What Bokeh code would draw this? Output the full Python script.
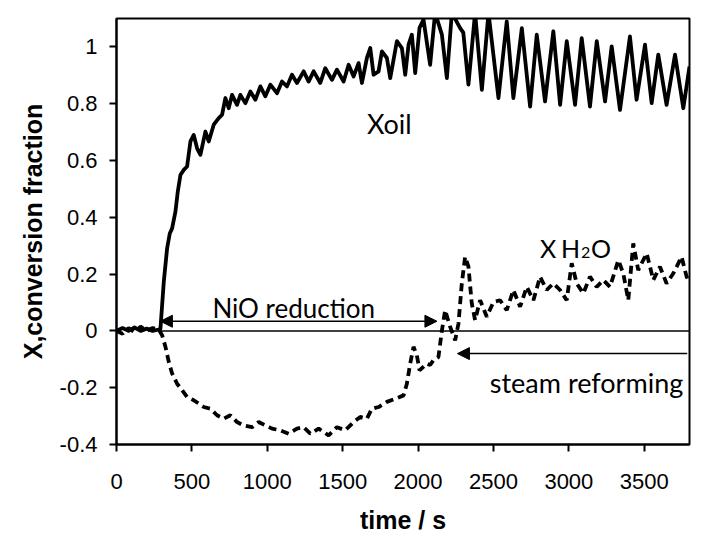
from bokeh.plotting import figure
from bokeh.models import Range1d, FixedTicker, CustomJSTickFormatter, Arrow, NormalHead, Label
from bokeh.embed import file_html
from bokeh.resources import INLINE

# ---------------- data ----------------
time_oil = [0, 40, 80, 120, 160, 200, 240, 280, 291.5, 313.6, 335.7, 353.3, 368.8, 390.9, 406.3, 424.0,
            446.1, 468.2, 490.3, 512.3, 534.4, 556.5, 589.6, 611.7, 644.8, 678.0, 700.1, 722.1,
            744.2, 766.3, 799.4, 821.5, 854.6, 887.8, 920.9, 954.0, 987.2, 1020.3, 1064.4, 1097.6,
            1130.7, 1163.8, 1197.0, 1241.1, 1274.2, 1307.4, 1351.5, 1384.7, 1428.8, 1462.0, 1506.1,
            1539.3, 1572.4, 1605.5, 1627.6, 1660.7, 1682.8, 1704.9, 1738.0, 1760.1, 1793.2, 1815.3,
            1859.5, 1892.6, 1914.7, 1936.8, 1958.8, 1980.9, 2009.6, 2036, 2080, 2113, 2158, 2191,
            2224, 2279, 2300, 2334, 2378, 2423, 2467, 2533, 2588, 2632, 2688, 2743, 2787, 2842,
            2897, 2942, 2986, 3041, 3085, 3140, 3185, 3240, 3284, 3339, 3405, 3449, 3505, 3549,
            3593, 3648, 3704, 3759, 3800]
x_oil = [0.0, 0.01, 0.0, 0.012, 0.0, 0.008, 0.0, 0.005, 0.008, 0.173, 0.291, 0.343, 0.361, 0.420, 0.490, 0.549,
         0.567, 0.579, 0.667, 0.690, 0.643, 0.620, 0.702, 0.667, 0.726, 0.749, 0.761, 0.820,
         0.784, 0.831, 0.796, 0.831, 0.802, 0.843, 0.814, 0.861, 0.826, 0.867, 0.837, 0.878,
         0.861, 0.902, 0.873, 0.914, 0.878, 0.914, 0.873, 0.925, 0.884, 0.920, 0.878,
         0.937, 0.896, 0.943, 0.873, 0.961, 0.996, 0.902, 0.914, 0.984, 0.961, 0.890,
         1.020, 0.996, 0.902, 1.008, 1.043, 0.908, 1.067, 1.096, 0.937, 1.12, 1.043, 0.890,
         1.12, 1.066, 1.05, 0.867, 1.12, 0.849, 1.12, 0.820, 1.090, 0.820, 1.066, 0.790, 1.043, 0.808,
         1.055, 0.796, 1.020, 0.796, 1.031, 0.790, 1.020, 0.808, 1.002, 0.778, 1.037, 0.814, 1.008, 0.802,
         0.973, 0.796, 0.973, 0.784, 0.931]

time_h2o = [0, 40, 80, 120, 160, 200, 240, 280, 302.5, 324.6, 346.7, 368.8, 401.9, 435.1, 468.2, 512.3,
            545.5, 578.6, 622.8, 666.9, 711.1, 755.3, 799.4, 843.6, 898.8, 943.0, 987.2, 1031.3,
            1086.5, 1141.7, 1196.9, 1241.1, 1285.3, 1340.5, 1406.7, 1462.0, 1517.2, 1572.4, 1616.5,
            1660.7, 1693.8, 1738.0, 1793.2, 1848.4, 1903.6, 1925.7, 1947.8, 1969.9, 1992.0, 2009.6,
            2058, 2080, 2102, 2135, 2157.6, 2179.6, 2212.8, 2245.9, 2268, 2290, 2312, 2334, 2356,
            2378, 2411.5, 2455.7, 2499.9, 2544, 2588, 2632, 2676.5, 2720.7, 2764.9, 2809, 2853, 2897,
            2941.5, 2985.7, 3019, 3052, 3096, 3140, 3184.5, 3228.6, 3272.8, 3328, 3361, 3394, 3427,
            3460, 3516, 3560, 3604, 3648, 3692, 3747.6, 3780.7, 3800]
x_h2o = [0.0, -0.01, 0.01, -0.005, 0.015, 0.0, 0.01, 0.005, -0.015, -0.056, -0.109, -0.150, -0.186, -0.209, -0.233, -0.244,
         -0.256, -0.268, -0.274, -0.297, -0.309, -0.297, -0.321, -0.333, -0.339, -0.321, -0.333, -0.344,
         -0.350, -0.362, -0.344, -0.339, -0.362, -0.344, -0.368, -0.339, -0.350, -0.321, -0.303,
         -0.309, -0.274, -0.268, -0.250, -0.239, -0.227, -0.186, -0.115, -0.056, -0.086, -0.139,
         -0.115, -0.120, -0.103, -0.092, 0.0, 0.073, 0.014, -0.033, 0.026, 0.167, 0.261, 0.226, 0.097,
         0.038, 0.108, 0.050, 0.102, 0.108, 0.073, 0.144, 0.085, 0.155, 0.108, 0.191, 0.144, 0.167,
         0.144, 0.108, 0.238, 0.167, 0.132, 0.191, 0.155, 0.179, 0.155, 0.249, 0.202, 0.108, 0.308,
         0.214, 0.273, 0.179, 0.226, 0.167, 0.202, 0.261, 0.191, 0.17]

x_ticks = [0, 500, 1000, 1500, 2000, 2500, 3000, 3500]
y_ticks = [-0.4, -0.2, 0, 0.2, 0.4, 0.6, 0.8, 1]

# annotation geometry (data units)
NIO_ARROW = dict(x0=291, x1=2125, y=0.034)
STEAM_ARROW = dict(x0=3785, x1=2261, y=-0.08)
ZERO_LINE = dict(x0=291, x1=3800, y=0.0)

# ---------------- figure ----------------
p = figure(width=701, height=540, output_backend="svg", toolbar_location=None,
           x_range=Range1d(0, 3800), y_range=Range1d(-0.4, 1.1),
           min_border_left=116, min_border_right=12, min_border_top=18, min_border_bottom=96)
p.background_fill_color = "white"
p.border_fill_color = "white"
p.outline_line_color = "black"
p.outline_line_width = 2
p.grid.visible = False

for ax in (p.xaxis[0], p.yaxis[0]):
    ax.axis_line_color = "black"
    ax.axis_line_width = 2
    ax.major_tick_line_color = "black"
    ax.major_tick_line_width = 2
    ax.major_tick_out = 7
    ax.major_tick_in = 0
    ax.minor_tick_line_color = None
    ax.major_label_text_font = "Liberation Sans"
    ax.major_label_text_font_size = "22px"
    ax.major_label_text_color = "black"
    ax.axis_label_text_font = "Liberation Sans"
    ax.axis_label_text_font_style = "bold"
    ax.axis_label_text_font_size = "25px"
    ax.axis_label_text_color = "black"

p.xaxis.ticker = FixedTicker(ticks=x_ticks)
p.yaxis.ticker = FixedTicker(ticks=y_ticks)
p.xaxis.formatter = CustomJSTickFormatter(code="return String(tick);")
p.yaxis.formatter = CustomJSTickFormatter(code="return String(Math.round(tick*10)/10);")
p.xaxis.axis_label = "time / s"
p.yaxis.axis_label = "X,conversion fraction"
p.xaxis.major_label_standoff = 22
p.yaxis.major_label_standoff = 12
p.xaxis.axis_label_standoff = 14
p.yaxis.axis_label_standoff = 10

# curves
p.line(time_oil, x_oil, line_color="black", line_width=3.8, line_join="round")
p.line(time_h2o, x_h2o, line_color="black", line_width=3.8, line_dash="8 5")

# zero line
p.segment(x0=[ZERO_LINE["x0"]], y0=[ZERO_LINE["y"]], x1=[ZERO_LINE["x1"]], y1=[ZERO_LINE["y"]],
          line_color="black", line_width=1.5)

# arrows
p.add_layout(Arrow(start=NormalHead(size=12, fill_color="black", line_color="black"),
                   end=NormalHead(size=12, fill_color="black", line_color="black"),
                   x_start=NIO_ARROW["x0"], y_start=NIO_ARROW["y"],
                   x_end=NIO_ARROW["x1"], y_end=NIO_ARROW["y"],
                   line_color="black", line_width=1.5))
p.add_layout(Arrow(end=NormalHead(size=12, fill_color="black", line_color="black"),
                   x_start=STEAM_ARROW["x0"], y_start=STEAM_ARROW["y"],
                   x_end=STEAM_ARROW["x1"], y_end=STEAM_ARROW["y"],
                   line_color="black", line_width=1.5))

# labels
FONT = "Lato"
FS = "26px"
def lab(x, y, text, align="left", xo=0, yo=0, fs=FS):
    p.add_layout(Label(x=x, y=y, text=text, text_font=FONT, text_font_size=fs,
                       text_align=align, text_baseline="alphabetic", x_offset=xo, y_offset=yo,
                       text_color="black"))

lab(1661, 0.7316, "Xoil", fs="27px")
lab(1175, 0.079, "NiO reduction", align="center")
lab(3117, -0.1834, "steam reforming", align="center", fs="27px")
lab(2809, 0.2917, "X", fs="25px")
lab(2809, 0.2917, "H", xo=21, fs="25px")
lab(2809, 0.2917, "2", xo=41, yo=-4, fs="16px")
lab(2809, 0.2917, "O", xo=51, fs="25px")

open("out.html", "w").write(file_html(p, INLINE))
